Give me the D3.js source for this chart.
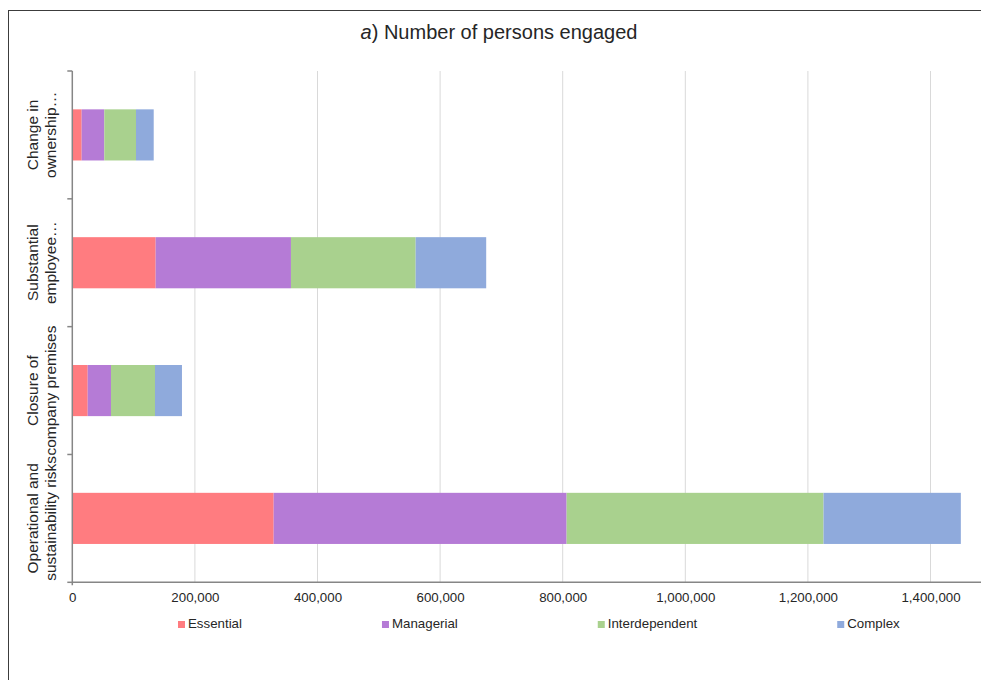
<!DOCTYPE html>
<html>
<head>
<meta charset="utf-8">
<script src="https://cdn.jsdelivr.net/npm/d3@7"></script>
<style>
  html, body { margin: 0; padding: 0; background: #fff; }
  svg { display: block; font-family: "Liberation Sans", Arial, sans-serif; }
</style>
</head>
<body>
<svg id="chart" width="981" height="680"></svg>
<script>
// Categories, top to bottom, each split into two label lines
const categories = [
  "Change in ownership",
  "Substantial employee",
  "Closure of company premises",
  "Operational and sustainability risks"
];
const categoryLines = [
  ["Change in", "ownership…"],
  ["Substantial", "employee…"],
  ["Closure of", "company premises"],
  ["Operational and", "sustainability risks"]
];

// Persons engaged by type of concern
const seriesNames = ["Essential", "Managerial", "Interdependent", "Complex"];
const essential      = [15300, 136000, 25100, 328500];
const managerial     = [36900, 220700, 38000, 477900];
const interdependent = [51700, 203400, 71800, 419100];
const complex        = [28900, 115100, 44000, 224000];
const seriesColors   = ["#ff7c80", "#b57bd6", "#a9d18e", "#8faadc"];

const xTicks = [0, 200000, 400000, 600000, 800000, 1000000, 1200000, 1400000];

// Table built from the arrays above for d3.stack
const table = categories.map((c, i) => ({
  category: c,
  Essential: essential[i],
  Managerial: managerial[i],
  Interdependent: interdependent[i],
  Complex: complex[i]
}));

const svg = d3.select("#chart");

// Outer chart frame
svg.append("rect")
  .attr("x", 8.5).attr("y", 10.5)
  .attr("width", 1100).attr("height", 800)
  .attr("fill", "none").attr("stroke", "#3c3c3c").attr("stroke-width", 1);

// Title
const title = svg.append("text")
  .attr("x", 499).attr("y", 39)
  .attr("text-anchor", "middle")
  .attr("font-size", 20)
  .attr("fill", "#262626");
title.append("tspan").attr("font-style", "italic").text("a");
title.append("tspan").text(") Number of persons engaged");

const plot = { left: 72.3, top: 71, bottom: 582.3 };

const x = d3.scaleLinear()
  .domain([0, 1600000])
  .range([plot.left, plot.left + 8 * 122.6]);

const y = d3.scaleBand()
  .domain(categories)
  .range([plot.top, plot.bottom])
  .paddingInner(0.6)
  .paddingOuter(0.3);

// Vertical gridlines
svg.append("g")
  .selectAll("line")
  .data(xTicks.filter(d => d > 0))
  .join("line")
  .attr("x1", d => x(d)).attr("x2", d => x(d))
  .attr("y1", plot.top).attr("y2", plot.bottom)
  .attr("stroke", "#d9d9d9").attr("stroke-width", 1);

// Stacked bars
const stacked = d3.stack().keys(seriesNames)(table);
svg.append("g")
  .selectAll("g")
  .data(stacked)
  .join("g")
  .attr("fill", (d, i) => seriesColors[i])
  .selectAll("rect")
  .data(d => d)
  .join("rect")
  .attr("x", d => x(d[0]))
  .attr("width", d => x(d[1]) - x(d[0]))
  .attr("y", d => y(d.data.category))
  .attr("height", y.bandwidth());

// X axis
const xAxis = svg.append("g")
  .attr("transform", `translate(0,${plot.bottom})`)
  .call(d3.axisBottom(x)
    .tickValues(xTicks)
    .tickSize(0)
    .tickPadding(10)
    .tickFormat(d3.format(",")));
xAxis.select(".domain").attr("stroke", "#868686").attr("stroke-width", 1.5)
  .attr("d", `M${plot.left},0H1100`);
xAxis.selectAll("text")
  .attr("font-size", 13.3)
  .attr("font-family", "Liberation Sans, Arial, sans-serif")
  .attr("fill", "#262626");

// Y axis line with ticks at category boundaries
const yAxisG = svg.append("g");
yAxisG.append("line")
  .attr("x1", plot.left).attr("x2", plot.left)
  .attr("y1", plot.top).attr("y2", plot.bottom + 3)
  .attr("stroke", "#868686").attr("stroke-width", 1.5);
const boundaries = d3.range(categories.length + 1).map(i => plot.top + i * (plot.bottom - plot.top) / categories.length);
yAxisG.selectAll("line.tick")
  .data(boundaries)
  .join("line")
  .attr("class", "tick")
  .attr("x1", plot.left - 5).attr("x2", plot.left)
  .attr("y1", d => d).attr("y2", d => d)
  .attr("stroke", "#868686").attr("stroke-width", 1.5);

// Rotated two-line category labels
const labels = svg.append("g")
  .selectAll("text")
  .data(categories)
  .join("text")
  .attr("transform", d => `translate(38,${y(d) + y.bandwidth() / 2}) rotate(-90)`)
  .attr("text-anchor", "middle")
  .attr("font-size", 15.5)
  .attr("fill", "#262626");
labels.each(function(d, i) {
  const t = d3.select(this);
  categoryLines[i].forEach((line, k) => {
    t.append("tspan").attr("x", 0).attr("y", k * 17.5).text(line);
  });
});

// Legend
const legend = svg.append("g");
let lx = 178;
seriesNames.forEach((name, i) => {
  const g = legend.append("g").attr("transform", `translate(${lx},0)`);
  g.append("rect")
    .attr("x", 0).attr("y", 621)
    .attr("width", 7).attr("height", 7)
    .attr("fill", seriesColors[i]);
  const t = g.append("text")
    .attr("x", 10).attr("y", 628)
    .attr("font-size", 13.3)
    .attr("fill", "#262626")
    .text(name);
  lx += 10 + t.node().getComputedTextLength() + 140;
});
</script>
</body>
</html>
